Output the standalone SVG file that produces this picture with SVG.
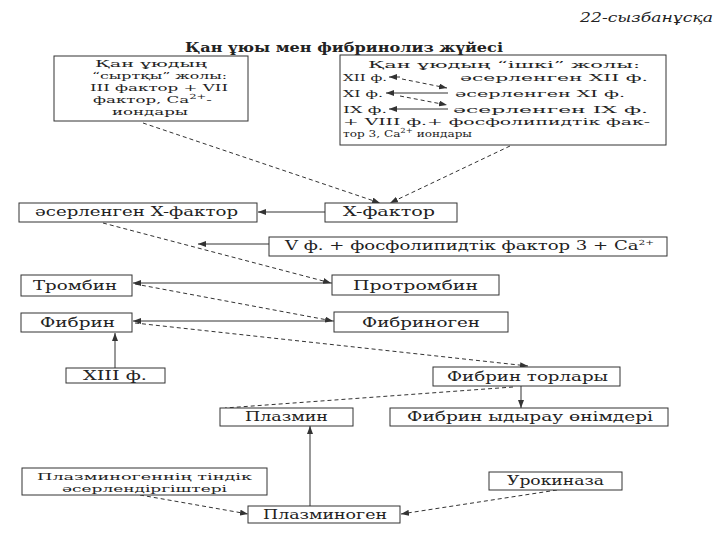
<svg xmlns="http://www.w3.org/2000/svg" width="720" height="540" viewBox="0 0 720 540">
<style>
text{font-family:"DejaVu Serif","Liberation Serif",serif;font-size:12px;fill:#222}
.m{font-size:10px}
.box{fill:#fff;stroke:#333;stroke-width:1}
.sol{fill:none;stroke:#333;stroke-width:1}
.dash{fill:none;stroke:#333;stroke-width:1;stroke-dasharray:4 3}
.sup{font-size:7px}
</style>
<defs>
<marker id="ah" markerWidth="8" markerHeight="6" refX="8" refY="3" orient="auto" markerUnits="userSpaceOnUse">
<path d="M0,0 L8,3 L0,6 z" fill="#333"/>
</marker>
</defs>
<rect width="720" height="540" fill="#fff"/>
<text x="580" y="22" font-style="italic" font-size="13" textLength="133" lengthAdjust="spacingAndGlyphs">22-сызбанұсқа</text>
<text x="185" y="52" font-weight="bold" font-size="14" textLength="318" lengthAdjust="spacingAndGlyphs">Қан ұюы мен фибринолиз жүйесі</text>

<g id="connectors">
<line class="dash" x1="143" y1="123" x2="380" y2="203" marker-end="url(#ah)"/>
<line class="dash" x1="510" y1="146" x2="390" y2="203" marker-end="url(#ah)"/>
<line class="sol" x1="325" y1="212" x2="258" y2="212" marker-end="url(#ah)"/>
<line class="sol" x1="269" y1="244" x2="198" y2="244" marker-end="url(#ah)"/>
<line class="dash" x1="103" y1="223" x2="331" y2="283" marker-end="url(#ah)"/>
<line class="sol" x1="332" y1="283" x2="133" y2="283" marker-end="url(#ah)"/>
<line class="dash" x1="135" y1="284" x2="333" y2="321" marker-end="url(#ah)"/>
<line class="sol" x1="334" y1="321" x2="133" y2="321" marker-end="url(#ah)"/>
<line class="dash" x1="135" y1="323" x2="528" y2="366" marker-end="url(#ah)"/>
<line class="sol" x1="115" y1="368" x2="115" y2="333" marker-end="url(#ah)"/>
<line class="sol" x1="521" y1="386" x2="521" y2="408" marker-end="url(#ah)"/>
<line class="dash" x1="513" y1="387" x2="225" y2="408"/>
<line class="sol" x1="310" y1="506" x2="310" y2="426" marker-end="url(#ah)"/>
<line class="dash" x1="140" y1="495" x2="248" y2="514" marker-end="url(#ah)"/>
<line class="dash" x1="557" y1="490" x2="401" y2="514" marker-end="url(#ah)"/>
</g>

<g id="external">
<rect class="box" x="54" y="56" width="194" height="65"/>
<text class="m" x="95" y="67" textLength="112" lengthAdjust="spacingAndGlyphs">Қан ұюдың</text>
<text class="m" x="92" y="79" textLength="135" lengthAdjust="spacingAndGlyphs">“сыртқы” жолы:</text>
<text class="m" x="90" y="91" textLength="138" lengthAdjust="spacingAndGlyphs">III фактор + VII</text>
<text class="m" x="93" y="103" textLength="119" lengthAdjust="spacingAndGlyphs">фактор, Ca<tspan class="sup" dy="-4">2+</tspan><tspan dy="4">-</tspan></text>
<text class="m" x="112" y="115" textLength="76" lengthAdjust="spacingAndGlyphs">иондары</text>
</g>

<g id="internal">
<rect class="box" x="340" y="55" width="326" height="90"/>
<text class="m" x="368" y="68" textLength="272" lengthAdjust="spacingAndGlyphs">Қан ұюдың “ішкі” жолы:</text>
<text class="m" x="343" y="81" textLength="44" lengthAdjust="spacingAndGlyphs">XII ф.</text>
<text class="m" x="460" y="81" textLength="188" lengthAdjust="spacingAndGlyphs">әсерленген XII ф.</text>
<text class="m" x="343" y="97" textLength="40" lengthAdjust="spacingAndGlyphs">XI ф.</text>
<text class="m" x="455" y="97" textLength="170" lengthAdjust="spacingAndGlyphs">әсерленген XI ф.</text>
<text class="m" x="343" y="113" textLength="44" lengthAdjust="spacingAndGlyphs">IX ф.</text>
<text class="m" x="453" y="113" textLength="195" lengthAdjust="spacingAndGlyphs">әсерленген IX ф.</text>
<text class="m" x="343" y="125" textLength="307" lengthAdjust="spacingAndGlyphs">+ VIII ф.+ фосфолипидтік фак-</text>
<text class="m" x="343" y="137" textLength="129" lengthAdjust="spacingAndGlyphs">тор 3, Ca<tspan class="sup" dy="-4">2+</tspan><tspan dy="4"> иондары</tspan></text>
<line class="sol" x1="400" y1="77" x2="389" y2="77" marker-end="url(#ah)"/>
<line class="dash" x1="402" y1="79" x2="447" y2="88" marker-end="url(#ah)"/>
<line class="sol" x1="448" y1="93" x2="386" y2="93" marker-end="url(#ah)"/>
<line class="dash" x1="400" y1="96" x2="447" y2="105" marker-end="url(#ah)"/>
<line class="sol" x1="448" y1="109" x2="389" y2="109" marker-end="url(#ah)"/>
</g>

<g id="activatedX">
<rect class="box" x="19" y="203" width="238" height="19"/>
<text x="35" y="216" textLength="203" lengthAdjust="spacingAndGlyphs">әсерленген X-фактор</text>
</g>
<g id="factorX">
<rect class="box" x="325" y="203" width="132" height="19"/>
<text x="343" y="216" textLength="92" lengthAdjust="spacingAndGlyphs">X-фактор</text>
</g>
<g id="factorV">
<rect class="box" x="269" y="237" width="398" height="19"/>
<text x="285" y="250" textLength="369" lengthAdjust="spacingAndGlyphs">V ф. + фосфолипидтік фактор 3 + Ca<tspan class="sup" dy="-5">2+</tspan></text>
</g>
<g id="thrombin">
<rect class="box" x="21" y="275" width="111" height="21"/>
<text x="33" y="290" textLength="84" lengthAdjust="spacingAndGlyphs">Тромбин</text>
</g>
<g id="prothrombin">
<rect class="box" x="332" y="275" width="167" height="20"/>
<text x="353" y="290" textLength="125" lengthAdjust="spacingAndGlyphs">Протромбин</text>
</g>
<g id="fibrin">
<rect class="box" x="21" y="313" width="111" height="19"/>
<text x="40" y="327" textLength="75" lengthAdjust="spacingAndGlyphs">Фибрин</text>
</g>
<g id="fibrinogen">
<rect class="box" x="334" y="312" width="174" height="20"/>
<text x="362" y="327" textLength="118" lengthAdjust="spacingAndGlyphs">Фибриноген</text>
</g>
<g id="factorXIII">
<rect class="box" x="66" y="368" width="99" height="15"/>
<text x="83" y="380" textLength="64" lengthAdjust="spacingAndGlyphs">XIII ф.</text>
</g>
<g id="fibrinNet">
<rect class="box" x="433" y="367" width="187" height="19"/>
<text x="447" y="381" textLength="161" lengthAdjust="spacingAndGlyphs">Фибрин торлары</text>
</g>
<g id="plasmin">
<rect class="box" x="220" y="408" width="133" height="18"/>
<text x="245" y="421" textLength="83" lengthAdjust="spacingAndGlyphs">Плазмин</text>
</g>
<g id="degradation">
<rect class="box" x="390" y="408" width="278" height="18"/>
<text x="407" y="421" textLength="246" lengthAdjust="spacingAndGlyphs">Фибрин ыдырау өнімдері</text>
</g>
<g id="tissueActivators">
<rect class="box" x="22" y="468" width="245" height="27"/>
<text class="m" x="37" y="480" textLength="215" lengthAdjust="spacingAndGlyphs">Плазминогеннің тіндік</text>
<text class="m" x="62" y="492" textLength="165" lengthAdjust="spacingAndGlyphs">әсерлендіргіштері</text>
</g>
<g id="urokinase">
<rect class="box" x="489" y="472" width="133" height="18"/>
<text x="507" y="485" textLength="97" lengthAdjust="spacingAndGlyphs">Урокиназа</text>
</g>
<g id="plasminogen">
<rect class="box" x="248" y="506" width="152" height="17"/>
<text x="263" y="519" textLength="124" lengthAdjust="spacingAndGlyphs">Плазминоген</text>
</g>
</svg>
